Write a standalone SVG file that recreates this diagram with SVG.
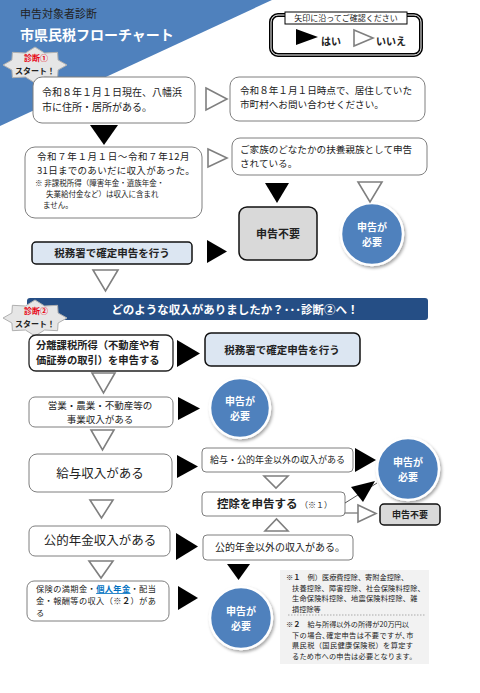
<svg xmlns="http://www.w3.org/2000/svg" width="480" height="693" viewBox="0 0 480 693">
<style>
text{font-family:"Noto Sans CJK JP","Noto Sans",sans-serif;fill:#222}
.box{fill:#fff;stroke:#7f7f7f;stroke-width:1}
.boxk{fill:#fff;stroke:#222;stroke-width:1.3}
.blue{fill:#dce6f2;stroke:#111;stroke-width:1.5}
.gray{fill:#d9d9d9;stroke:#111;stroke-width:1.5}
.yes{fill:#000}
.no{fill:#fff;stroke:#7f7f7f;stroke-width:1.6}
.circ{fill:#4f81bd;stroke:#fff;stroke-width:2.5;filter:url(#sh)}
.ct{fill:#fff;font-weight:bold;font-size:10px;text-anchor:middle}
.t10{font-size:10px}
.t96{font-size:9.6px}
.t9{font-size:9px}
.t8{font-size:8px}
.tn{font-size:7.2px}
.b{font-weight:bold}
.mid{text-anchor:middle}
.line{stroke:#555;stroke-width:1;fill:none}
</style>
<defs>
<filter id="sh" x="-30%" y="-30%" width="160%" height="160%">
<feDropShadow dx="1.5" dy="2" stdDeviation="1.5" flood-color="#000" flood-opacity="0.35"/>
</filter>
<polygon id="burst" points="32,0 23.1,5 22.6,12.7 9.6,12 0,18 -9.6,12 -22.6,12.7 -23.1,5 -32,0 -23.1,-5 -22.6,-12.7 -9.6,-12 0,-18 9.6,-12 22.6,-12.7 23.1,-5" fill="#e6e6e6" stroke="#b0b0b0" stroke-width="1"/>
</defs>
<rect width="480" height="693" fill="#fff"/>

<g id="header">
<polygon points="0,0 272,0 0,126" fill="#4f81bd"/>
<text x="20" y="18" font-size="11" fill="#1a1a1a">申告対象者診断</text>
<text x="20" y="40" font-size="14" font-weight="bold" style="fill:#fff">市県民税フローチャート</text>
</g>

<g id="legend">
<rect x="271" y="15" width="150" height="40" rx="7" fill="#fff" stroke="#000" stroke-width="4"/>
<rect x="271" y="15" width="150" height="40" rx="7" fill="none" stroke="#fff" stroke-width="1"/>
<rect x="285" y="12" width="122" height="12" fill="#fff" stroke="#000" stroke-width="1"/>
<text x="346" y="21" class="t8 mid">矢印に沿ってご確認ください</text>
<polygon points="296,29 318,37 296,45" class="yes"/>
<text x="321" y="45" class="t10 b">はい</text>
<polygon points="354,30 373,38 354,46" class="no"/>
<text x="376" y="45" class="t10 b">いいえ</text>
</g>

<g id="start1">
<use href="#burst" x="35" y="65"/>
<text x="36" y="61" class="t8 b mid" style="fill:#e60012">診断①</text>
<text x="35" y="73.5" class="t8 b mid">スタート！</text>
</g>

<g id="n1">
<rect x="33" y="77" width="162" height="46" rx="9" class="box"/>
<text x="42" y="96" class="t10">令和８年１月１日現在、八幡浜</text>
<text x="42" y="111" class="t10">市に住所・居所がある。</text>
</g>

<g id="n2">
<rect x="230" y="77" width="195" height="44" rx="9" class="box"/>
<text x="240" y="94" class="t96">令和８年１月１日時点で、居住していた</text>
<text x="240" y="108" class="t96">市町村へお問い合わせください。</text>
</g>

<g id="n3">
<rect x="25" y="147" width="177" height="71" rx="10" class="box"/>
<text x="37" y="160" font-size="9.5" letter-spacing="0.6">令和７年１月１日～令和７年12月</text>
<text x="37" y="174" font-size="9.5" letter-spacing="0.3">31日までのあいだに収入があった。</text>
<text x="35" y="186" font-size="7.5">※ 非課税所得（障害年金・遺族年金・</text>
<text x="46" y="197" font-size="7.5">失業給付金など）は収入に含まれ</text>
<text x="43" y="208" font-size="7.5">ません。</text>
</g>

<g id="n4">
<rect x="232" y="138" width="195" height="37" rx="8" class="box"/>
<text x="240" y="153" class="t96">ご家族のどなたかの扶養親族として申告</text>
<text x="240" y="167" class="t96">されている。</text>
</g>

<g id="n5">
<rect x="239" y="207" width="78" height="53" rx="8" class="gray"/>
<text x="278" y="238" font-size="11" class="b mid">申告不要</text>
</g>

<g id="n6">
<circle cx="372" cy="234" r="31" class="circ"/>
<text x="372" y="231" class="ct">申告が</text>
<text x="372" y="245.5" class="ct">必要</text>
</g>

<g id="n7">
<rect x="32" y="242" width="160" height="22" rx="4" class="blue"/>
<text x="112" y="257" font-size="10.5" class="b mid">税務署で確定申告を行う</text>
</g>

<g id="banner">
<rect x="27" y="298" width="401" height="22" rx="3" fill="#254e85"/>
<text x="235" y="314" font-size="11.5" font-weight="bold" text-anchor="middle" style="fill:#fff">どのような収入がありましたか？･･･診断②へ！</text>
</g>

<g id="start2">
<use href="#burst" x="35" y="318"/>
<text x="36" y="314" class="t8 b mid" style="fill:#e60012">診断②</text>
<text x="35" y="326.5" class="t8 b mid">スタート！</text>
</g>

<g id="a1">
<rect x="29" y="335" width="144" height="36" rx="7" class="boxk"/>
<text x="36" y="349" font-size="10.3" class="b">分離課税所得（不動産や有</text>
<text x="36" y="364" font-size="10.3" class="b">価証券の取引）を申告する</text>
</g>

<g id="a2">
<rect x="205" y="333" width="155" height="33" rx="6" class="blue"/>
<text x="282" y="354" font-size="10.5" class="b mid">税務署で確定申告を行う</text>
</g>

<g id="a3">
<rect x="29" y="397" width="144" height="30" rx="6" class="box"/>
<text x="100" y="409" font-size="9.5" class="mid">営業・農業・不動産等の</text>
<text x="100" y="423" font-size="9.5" class="mid">事業収入がある</text>
</g>

<g id="a4">
<circle cx="240" cy="408" r="30" class="circ"/>
<text x="240" y="405" class="ct">申告が</text>
<text x="240" y="419.5" class="ct">必要</text>
</g>

<g id="b1">
<rect x="29" y="454" width="143" height="38" rx="8" class="box"/>
<text x="100" y="478" font-size="12.5" class="mid">給与収入がある</text>
</g>

<g id="b2">
<rect x="202" y="448" width="151" height="24" rx="4" class="box"/>
<text x="210" y="463" class="t9">給与・公的年金以外の収入がある</text>
</g>

<g id="b3">
<circle cx="408" cy="469" r="31" class="circ"/>
<text x="408" y="466" class="ct">申告が</text>
<text x="408" y="480.5" class="ct">必要</text>
</g>

<g id="b4">
<rect x="202" y="492" width="143" height="24" rx="4" class="box"/>
<text x="217" y="508" font-size="11.5" class="b">控除を申告する</text>
<text x="300" y="508" class="t8">（※１）</text>
</g>

<g id="b5">
<rect x="380" y="504" width="60" height="21" rx="4" class="gray"/>
<text x="410" y="518" class="t9 b mid">申告不要</text>
</g>

<g id="c1">
<rect x="29" y="526" width="141" height="30" rx="6" class="box"/>
<text x="100" y="545" font-size="12.5" class="mid">公的年金収入がある</text>
</g>

<g id="c2">
<rect x="203" y="535" width="150" height="25" rx="4" class="box"/>
<text x="215" y="551" class="t10">公的年金以外の収入がある。</text>
</g>

<g id="d1">
<rect x="27" y="581" width="142" height="40" rx="7" class="box"/>
<text x="36" y="592" font-size="8.2" letter-spacing="0.4">保険の満期金・<tspan style="fill:#0070c0" font-weight="bold" text-decoration="underline">個人年金</tspan>・配当</text>
<text x="36" y="604" font-size="8.2" letter-spacing="0.4">金・報酬等の収入（※<tspan font-weight="bold">２</tspan>）があ</text>
<text x="36" y="616" font-size="8.2">る</text>
</g>

<g id="d2">
<circle cx="241" cy="618" r="31" class="circ"/>
<text x="241" y="615" class="ct">申告が</text>
<text x="241" y="629.5" class="ct">必要</text>
</g>

<g id="notes">
<rect x="280" y="570" width="149" height="94" fill="#f2f2f2"/>
<text x="286" y="580" class="tn"><tspan font-weight="bold">※１</tspan>　例）医療費控除、寄附金控除、</text>
<text x="292" y="590.5" class="tn" letter-spacing="0.2">扶養控除、障害控除、社会保険料控除、</text>
<text x="292" y="601" class="tn" letter-spacing="0.2">生命保険料控除、地震保険料控除、雑</text>
<text x="292" y="611.5" class="tn">損控除等</text>
<line x1="288" y1="615" x2="425" y2="615" stroke="#aaa" stroke-width="1" stroke-dasharray="1.5,1.5"/>
<text x="286" y="627" class="tn"><tspan font-weight="bold">※２</tspan>　給与所得以外の所得が20万円以</text>
<text x="292" y="637.5" class="tn" letter-spacing="0.4">下の場合､確定申告は不要ですが､市</text>
<text x="292" y="648" class="tn" letter-spacing="0.4">県民税（国民健康保険税）を算定す</text>
<text x="292" y="658.5" class="tn" letter-spacing="0.2">るため市への申告は必要となります。</text>
</g>

<g id="connectors">
<polygon points="206,88 227,99 206,110" class="no"/>
<polygon points="90,125 118,125 104,145" class="yes"/>
<polygon points="208,149 227,158 208,167" class="no"/>
<polygon points="265,183 289,183 277,203" class="yes"/>
<polygon points="358,182 382,182 370,202" class="no"/>
<polygon points="207,240 227,251.5 207,263" class="yes"/>
<polygon points="93,270 118,270 105.5,291" class="no"/>
<polygon points="177,340 200,353.5 177,367" class="yes"/>
<polygon points="92,373 115,373 103.5,393" class="no"/>
<polygon points="178,397 200,408.5 178,420" class="yes"/>
<polygon points="91,430 114,430 102.5,450" class="no"/>
<polygon points="177,455 198,466.5 177,478" class="yes"/>
<polygon points="355,448 376,460 355,472" class="yes"/>
<polygon points="264,476 288,476 276,488" class="no"/>
<polyline points="345,503 377,483" class="line"/>
<polygon points="351,487 375,481 363,502" class="yes"/>
<polyline points="345,513 358,513" class="line"/>
<polygon points="358,505 376,513.5 358,522" class="no"/>
<polygon points="265,531 288,531 276.5,519" class="no"/>
<polygon points="90,500 113,500 101.5,518" class="no"/>
<polygon points="176,533 198,546.5 176,560" class="yes"/>
<polygon points="89,561 113,561 101,578" class="no"/>
<polygon points="227,564 250,564 238.5,580" class="yes"/>
<polygon points="178,586 198,598 178,610" class="yes"/>
</g>
</svg>
